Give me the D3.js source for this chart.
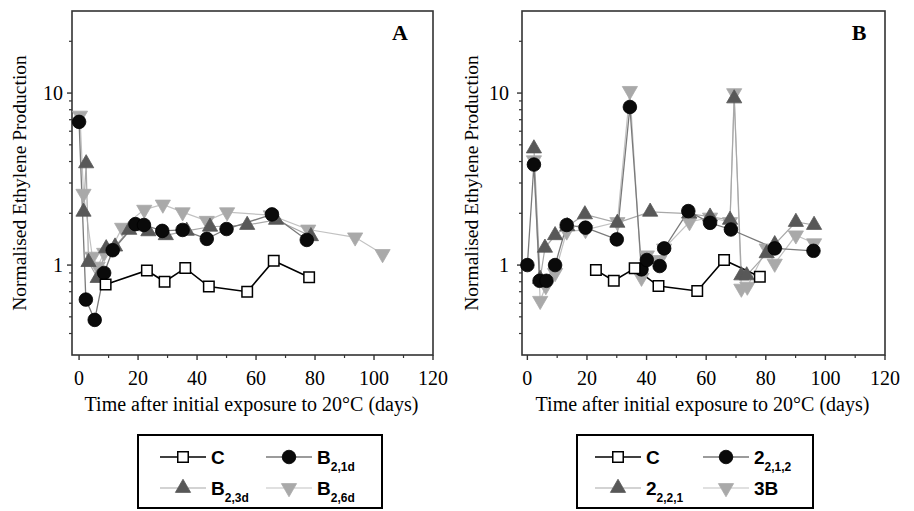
<!DOCTYPE html>
<html>
<head>
<meta charset="utf-8">
<script src="https://cdn.jsdelivr.net/npm/d3@7"></script>
<style>
  body { margin: 0; background: #fff; }
  svg { display: block; }
</style>
</head>
<body>
<script>
// ---- panel A data (days, normalised ethylene) ----
var aCDays = [9, 23, 29, 36, 44, 57, 66, 78];
var aCVals = [0.77, 0.93, 0.80, 0.96, 0.75, 0.70, 1.06, 0.85];
var aB21dDays = [0, 2.3, 5.3, 8.5, 11.4, 19.1, 22, 28.2, 35.1, 43.3, 50, 65.4, 77.2];
var aB21dVals = [6.8, 0.63, 0.48, 0.90, 1.22, 1.73, 1.71, 1.58, 1.60, 1.42, 1.62, 1.97, 1.40];
var aB23dDays = [1.5, 2.4, 3.2, 6.3, 9.2, 12.2, 17, 23.5, 29.4, 36.5, 44.4, 57, 66.8, 78.6];
var aB23dVals = [2.04, 3.9, 1.04, 0.84, 1.25, 1.28, 1.60, 1.57, 1.49, 1.58, 1.67, 1.71, 1.83, 1.47];
var aB26dDays = [0.3, 1.5, 4.5, 6.3, 8.5, 11, 14.6, 22.1, 28.4, 35.1, 43.3, 50.2, 65, 77.7, 93.6, 102.9];
var aB26dVals = [7.4, 2.6, 1.12, 0.98, 1.18, 1.25, 1.65, 2.1, 2.25, 2.03, 1.81, 2.03, 1.95, 1.61, 1.45, 1.16];

// ---- panel B data ----
var bCDays = [23, 29, 36, 44, 57, 66, 78];
var bCVals = [0.935, 0.81, 0.957, 0.755, 0.707, 1.07, 0.855];
var b212Days = [0, 2.2, 4.1, 6.4, 9.3, 13.2, 19.5, 30, 34.4, 38.3, 40.1, 44.4, 45.9, 54, 61.3, 68.3, 83, 96];
var b212Vals = [1.0, 3.84, 0.81, 0.81, 1.0, 1.71, 1.65, 1.41, 8.3, 0.944, 1.07, 0.987, 1.25, 2.06, 1.76, 1.61, 1.25, 1.21];
var b221Days = [2.2, 4.3, 5.9, 9.3, 13.4, 19.3, 30.2, 41.2, 54.3, 61.3, 68, 69.4, 71.8, 73.6, 80.3, 83, 90.1, 96.2];
var b221Vals = [4.76, 0.83, 1.26, 1.49, 1.68, 1.97, 1.76, 2.04, 1.99, 1.91, 1.83, 9.3, 0.87, 0.87, 1.17, 1.32, 1.78, 1.71];
var b3BDays = [2.2, 4.3, 6.2, 9.3, 13.2, 19.5, 30.2, 34.4, 38.3, 40.1, 44.3, 45.9, 54.4, 61.3, 68, 69.4, 71.8, 73.8, 80.3, 83, 90.1, 96.2];
var b3BVals = [4.07, 0.62, 0.755, 0.90, 1.57, 1.60, 1.78, 10.3, 0.845, 1.14, 1.07, 1.25, 1.78, 1.89, 1.78, 10.0, 0.73, 0.75, 1.25, 1.02, 1.49, 1.34];

// ---- axis ticks ----
var xTicks = [0, 20, 40, 60, 80, 100, 120];
var xMinor = [10, 30, 50, 70, 90, 110];
var yTicks = [1, 10];
var yMinor = [0.4, 0.5, 0.6, 0.7, 0.8, 0.9, 2, 3, 4, 5, 6, 7, 8, 9, 20];

var styles = {
  C:   { sym: d3.symbolSquare,   size: 110, fill: "#fff",    stroke: "#000", line: "#000",    lw: 1.6 },
  circ:{ sym: d3.symbolCircle,   size: 145, fill: "#0a0a0a", stroke: "#000", line: "#7a7a7a", lw: 1.3 },
  up:  { sym: d3.symbolTriangle, size: 100, fill: "#585858", stroke: "#585858", line: "#a8a8a8", lw: 1.2 },
  down:{ sym: d3.symbolTriangle, size: 100, fill: "#a9a9a9", stroke: "#a9a9a9", line: "#c2c2c2", lw: 1.2, flip: true }
};

var svg = d3.select("body").append("svg")
  .attr("width", 914)
  .attr("height", 511);

function zip(days, vals) {
  return days.map(function(d, i) { return [d, vals[i]]; });
}

function panel(opt) {
  var x = d3.scaleLinear().domain([opt.xmin, 120]).range([opt.left, opt.right]);
  var y = d3.scaleLog().domain([0.3, 30]).range([355, 11]);
  var g = svg.append("g");

  // minor ticks
  g.selectAll(".xm").data(xMinor).enter().append("line")
    .attr("x1", function(d) { return x(d); }).attr("x2", function(d) { return x(d); })
    .attr("y1", 355).attr("y2", 358)
    .attr("stroke", "#333").attr("stroke-width", 1.2);
  g.selectAll(".xt").data(xTicks).enter().append("line")
    .attr("x1", function(d) { return x(d); }).attr("x2", function(d) { return x(d); })
    .attr("y1", 355).attr("y2", 360)
    .attr("stroke", "#333").attr("stroke-width", 1.4);
  g.selectAll(".xl").data(xTicks).enter().append("text")
    .attr("x", function(d) { return x(d); })
    .attr("y", 385)
    .attr("text-anchor", "middle")
    .attr("font-family", "Liberation Serif, serif")
    .attr("font-size", 20)
    .text(function(d) { return d; });

  g.selectAll(".ym").data(yMinor).enter().append("line")
    .attr("x1", opt.left - 3).attr("x2", opt.left)
    .attr("y1", function(d) { return y(d); }).attr("y2", function(d) { return y(d); })
    .attr("stroke", "#333").attr("stroke-width", 1.2);
  g.selectAll(".yt").data(yTicks).enter().append("line")
    .attr("x1", opt.left - 5).attr("x2", opt.left)
    .attr("y1", function(d) { return y(d); }).attr("y2", function(d) { return y(d); })
    .attr("stroke", "#333").attr("stroke-width", 1.4);
  g.selectAll(".yl").data(yTicks).enter().append("text")
    .attr("x", opt.left - opt.lblGap)
    .attr("y", function(d) { return y(d) + 7; })
    .attr("text-anchor", "end")
    .attr("font-family", "Liberation Serif, serif")
    .attr("font-size", 20)
    .text(function(d) { return d; });

  // frame
  g.append("rect")
    .attr("x", opt.left).attr("y", 11)
    .attr("width", opt.right - opt.left).attr("height", 344)
    .attr("fill", "none").attr("stroke", "#333").attr("stroke-width", 1.6);

  g.append("text")
    .attr("x", (opt.left + opt.right) / 2 - 1)
    .attr("y", 411)
    .attr("text-anchor", "middle")
    .attr("font-family", "Liberation Serif, serif")
    .attr("font-size", 20)
    .text("Time after initial exposure to 20°C (days)");

  g.append("text")
    .attr("transform", "translate(" + opt.ylabX + ",183) rotate(-90)")
    .attr("text-anchor", "middle")
    .attr("font-family", "Liberation Serif, serif")
    .attr("font-size", 19.5)
    .text("Normalised Ethylene Production");

  g.append("text")
    .attr("x", opt.letterX).attr("y", 40)
    .attr("text-anchor", "middle")
    .attr("font-family", "Liberation Serif, serif")
    .attr("font-weight", "bold")
    .attr("font-size", 22)
    .text(opt.letter);

  var line = d3.line()
    .x(function(d) { return x(d[0]); })
    .y(function(d) { return y(d[1]); });

  opt.series.forEach(function(s) {
    var st = styles[s.style];
    var pts = zip(s.days, s.vals);
    g.append("path").datum(pts)
      .attr("d", line)
      .attr("fill", "none")
      .attr("stroke", st.line)
      .attr("stroke-width", st.lw);
  });
  opt.series.forEach(function(s) {
    var st = styles[s.style];
    var pts = zip(s.days, s.vals);
    g.selectAll(null).data(pts).enter().append("path")
      .attr("d", d3.symbol().type(st.sym).size(st.size))
      .attr("transform", function(d) {
        return "translate(" + x(d[0]) + "," + y(d[1]) + ")" + (st.flip ? " rotate(180)" : "");
      })
      .attr("fill", st.fill)
      .attr("stroke", st.stroke)
      .attr("stroke-width", s.style == "C" ? 1.5 : 0.8);
  });
}

function legend(opt) {
  var g = svg.append("g");
  g.append("rect")
    .attr("x", opt.x).attr("y", 435)
    .attr("width", opt.w).attr("height", 73)
    .attr("fill", "#fff").attr("stroke", "#000").attr("stroke-width", 2);
  opt.items.forEach(function(it) {
    var st = styles[it.style];
    g.append("line")
      .attr("x1", it.x).attr("x2", it.x + 46)
      .attr("y1", it.y).attr("y2", it.y)
      .attr("stroke", st.line).attr("stroke-width", st.lw);
    g.append("path")
      .attr("d", d3.symbol().type(st.sym).size(st.size))
      .attr("transform", "translate(" + (it.x + 23) + "," + it.y + ")" + (st.flip ? " rotate(180)" : ""))
      .attr("fill", st.fill).attr("stroke", st.stroke)
      .attr("stroke-width", it.style == "C" ? 1.5 : 0.8);
    var t = g.append("text")
      .attr("x", it.x + 51).attr("y", it.y + 7)
      .attr("font-family", "Liberation Sans, Arial, sans-serif")
      .attr("font-weight", "bold")
      .attr("font-size", 19)
      .text(it.main);
    if (it.sub) {
      t.append("tspan")
        .attr("dy", 7)
        .attr("font-size", 12)
        .text(it.sub);
    }
  });
}

panel({
  left: 72, right: 433, xmin: -2.4, lblGap: 9, ylabX: 26, letter: "A", letterX: 400,
  series: [
    { style: "down", days: aB26dDays, vals: aB26dVals },
    { style: "up", days: aB23dDays, vals: aB23dVals },
    { style: "circ", days: aB21dDays, vals: aB21dVals },
    { style: "C", days: aCDays, vals: aCVals }
  ]
});

panel({
  left: 522, right: 885, xmin: -1.8, lblGap: 13, ylabX: 478, letter: "B", letterX: 859,
  series: [
    { style: "down", days: b3BDays, vals: b3BVals },
    { style: "up", days: b221Days, vals: b221Vals },
    { style: "circ", days: b212Days, vals: b212Vals },
    { style: "C", days: bCDays, vals: bCVals }
  ]
});

legend({
  x: 138, w: 244,
  items: [
    { style: "C", x: 160, y: 457, main: "C" },
    { style: "circ", x: 266, y: 457, main: "B", sub: "2,1d" },
    { style: "up", x: 160, y: 488, main: "B", sub: "2,3d" },
    { style: "down", x: 266, y: 488, main: "B", sub: "2,6d" }
  ]
});

legend({
  x: 577, w: 236,
  items: [
    { style: "C", x: 595, y: 457, main: "C" },
    { style: "circ", x: 703, y: 457, main: "2", sub: "2,1,2" },
    { style: "up", x: 595, y: 488, main: "2", sub: "2,2,1" },
    { style: "down", x: 703, y: 488, main: "3B" }
  ]
});
</script>
</body>
</html>
